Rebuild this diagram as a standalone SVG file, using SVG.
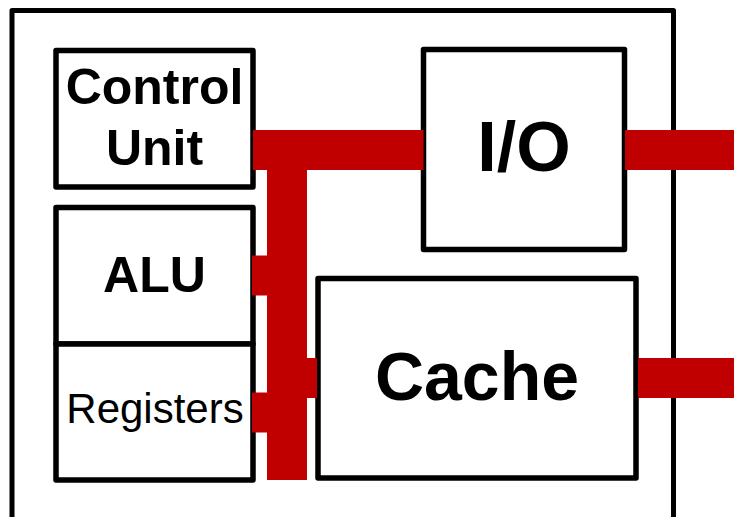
<svg xmlns="http://www.w3.org/2000/svg" width="734" height="517" viewBox="0 0 734 517">
  <style>
    .box { fill: #ffffff; stroke: #000000; stroke-width: 5.5; stroke-linejoin: round; }
    .frame { fill: none; stroke: #000000; stroke-width: 5; stroke-linejoin: round; }
    .bus { fill: #c00000; stroke: none; }
    .lbl { font-family: "Liberation Sans", Arial, sans-serif; font-weight: bold; fill: #000000; text-anchor: middle; }
    .lblr { font-family: "Liberation Sans", Arial, sans-serif; font-weight: normal; fill: #000000; text-anchor: middle; }
  </style>
  <rect x="0" y="0" width="734" height="517" fill="#ffffff"/>
  <g id="chip">
    <rect class="frame" x="12" y="10.5" width="661.5" height="530"/>
  </g>
  <g id="control-unit">
    <rect class="box" x="56" y="50.5" width="197" height="136.5"/>
    <text class="lbl" x="154.5" y="104" font-size="50">Control</text>
    <text class="lbl" x="154.5" y="165" font-size="50">Unit</text>
  </g>
  <g id="alu">
    <rect class="box" x="56" y="207.5" width="197" height="136.5"/>
    <text class="lbl" x="154.5" y="292" font-size="50">ALU</text>
  </g>
  <g id="registers">
    <rect class="box" x="56" y="344" width="197" height="136"/>
    <text class="lblr" x="155" y="423" font-size="42">Registers</text>
  </g>
  <g id="io">
    <rect class="box" x="423.5" y="49.5" width="201" height="200"/>
    <text class="lbl" x="524" y="171" font-size="70">I/O</text>
  </g>
  <g id="cache">
    <rect class="box" x="318" y="278.5" width="318" height="199.5"/>
    <text class="lbl" x="477" y="400" font-size="68">Cache</text>
  </g>
  <g id="connectors">
    <rect class="bus" x="253" y="130" width="170.5" height="40"/>
    <rect class="bus" x="267" y="130" width="40" height="350"/>
    <rect class="bus" x="252" y="255.5" width="16" height="40"/>
    <rect class="bus" x="252" y="392.5" width="16" height="40"/>
    <rect class="bus" x="306" y="358" width="11" height="40"/>
    <rect class="bus" x="625" y="130" width="109" height="40"/>
    <rect class="bus" x="638" y="358" width="96" height="40"/>
  </g>
</svg>
